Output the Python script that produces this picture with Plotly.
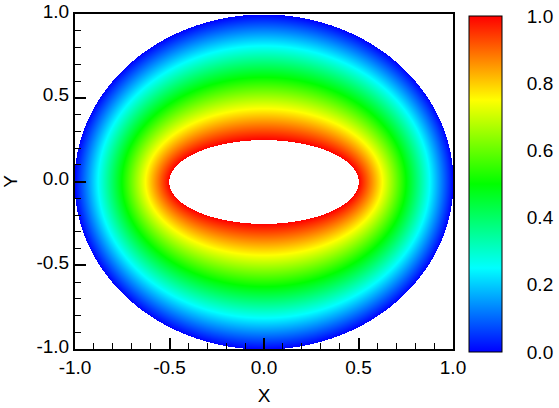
import numpy as np
import plotly.graph_objects as go

# geometry of the ring
inner_semi_x = 0.5
inner_semi_y = 0.25
outer_radius = 1.0

# field value across the ring: fraction of the way from inner edge to outer edge -> value
ring_frac = [0.0, 0.25, 0.5, 0.75, 1.0]
ring_value = [1.0, 0.75, 0.5, 0.25, 0.0]

x_ticks = [-1.0, -0.5, 0.0, 0.5, 1.0]
y_ticks = [-1.0, -0.5, 0.0, 0.5, 1.0]
cbar_ticks = [0.0, 0.2, 0.4, 0.6, 0.8, 1.0]

# sample the field on a grid of about one cell per pixel
xs = np.linspace(-1, 1, 380)
ys = np.linspace(-1, 1, 336)
X, Y = np.meshgrid(xs, ys)


def ring_f(s):
    a = inner_semi_x + (outer_radius - inner_semi_x) * s
    b = inner_semi_y + (outer_radius - inner_semi_y) * s
    return (X / a) ** 2 + (Y / b) ** 2 - 1.0


lo = np.zeros_like(X)
hi = np.ones_like(X)
for _ in range(40):
    mid = 0.5 * (lo + hi)
    pos = ring_f(mid) > 0
    lo = np.where(pos, mid, lo)
    hi = np.where(pos, hi, mid)
s = 0.5 * (lo + hi)
Z = np.interp(s, ring_frac, ring_value)
Z[ring_f(np.zeros_like(X)) < 0] = np.nan
Z[ring_f(np.ones_like(X)) > 0] = np.nan

rainbow = [[0.0, 'rgb(0,0,255)'], [0.25, 'rgb(0,255,255)'], [0.5, 'rgb(0,255,0)'],
           [0.75, 'rgb(255,255,0)'], [1.0, 'rgb(255,0,0)']]

font = dict(family='Liberation Sans, Arial, sans-serif', size=19, color='black')

fig = go.Figure(go.Heatmap(
    x=xs, y=ys, z=Z, zmin=0, zmax=1, colorscale=rainbow, hoverongaps=False,
    colorbar=dict(x=1.042, xanchor='left', xpad=0, y=0.4925, yanchor='middle', ypad=0,
                  lenmode='pixels', len=336, thickness=33, outlinecolor='black', outlinewidth=1,
                  tickvals=cbar_ticks, ticktext=['%.1f' % v for v in cbar_ticks],
                  ticks='outside', ticklen=21, tickcolor='rgba(0,0,0,0)', tickfont=font),
))

axis = dict(range=[-1, 1], showline=True, linecolor='black', linewidth=2, mirror=True,
            showgrid=False, zeroline=False, ticks='inside', ticklen=11, tickwidth=2,
            tickcolor='black', tickfont=font, automargin=False,
            minor=dict(ticks='inside', ticklen=6, tickwidth=1, tickcolor='black', dtick=0.1))

fig.update_layout(
    width=559, height=408,
    margin=dict(l=75, r=106, t=14, b=59, autoexpand=False),
    paper_bgcolor='white', plot_bgcolor='white',
    font=font,
    xaxis=dict(axis, tickvals=x_ticks, ticktext=['%.1f' % v for v in x_ticks],
               title=dict(text='X', font=font, standoff=12)),
    yaxis=dict(axis, tickvals=y_ticks, ticktext=['%.1f' % v for v in y_ticks],
               ticklabelshift=-3,
               title=dict(text='Y', font=font, standoff=16)),
)

# drop the default 8px page margin so the figure sits at the window's corner
fig.write_html("out.html", config={'displayModeBar': False},
               post_script="document.body.style.margin='0px';")
